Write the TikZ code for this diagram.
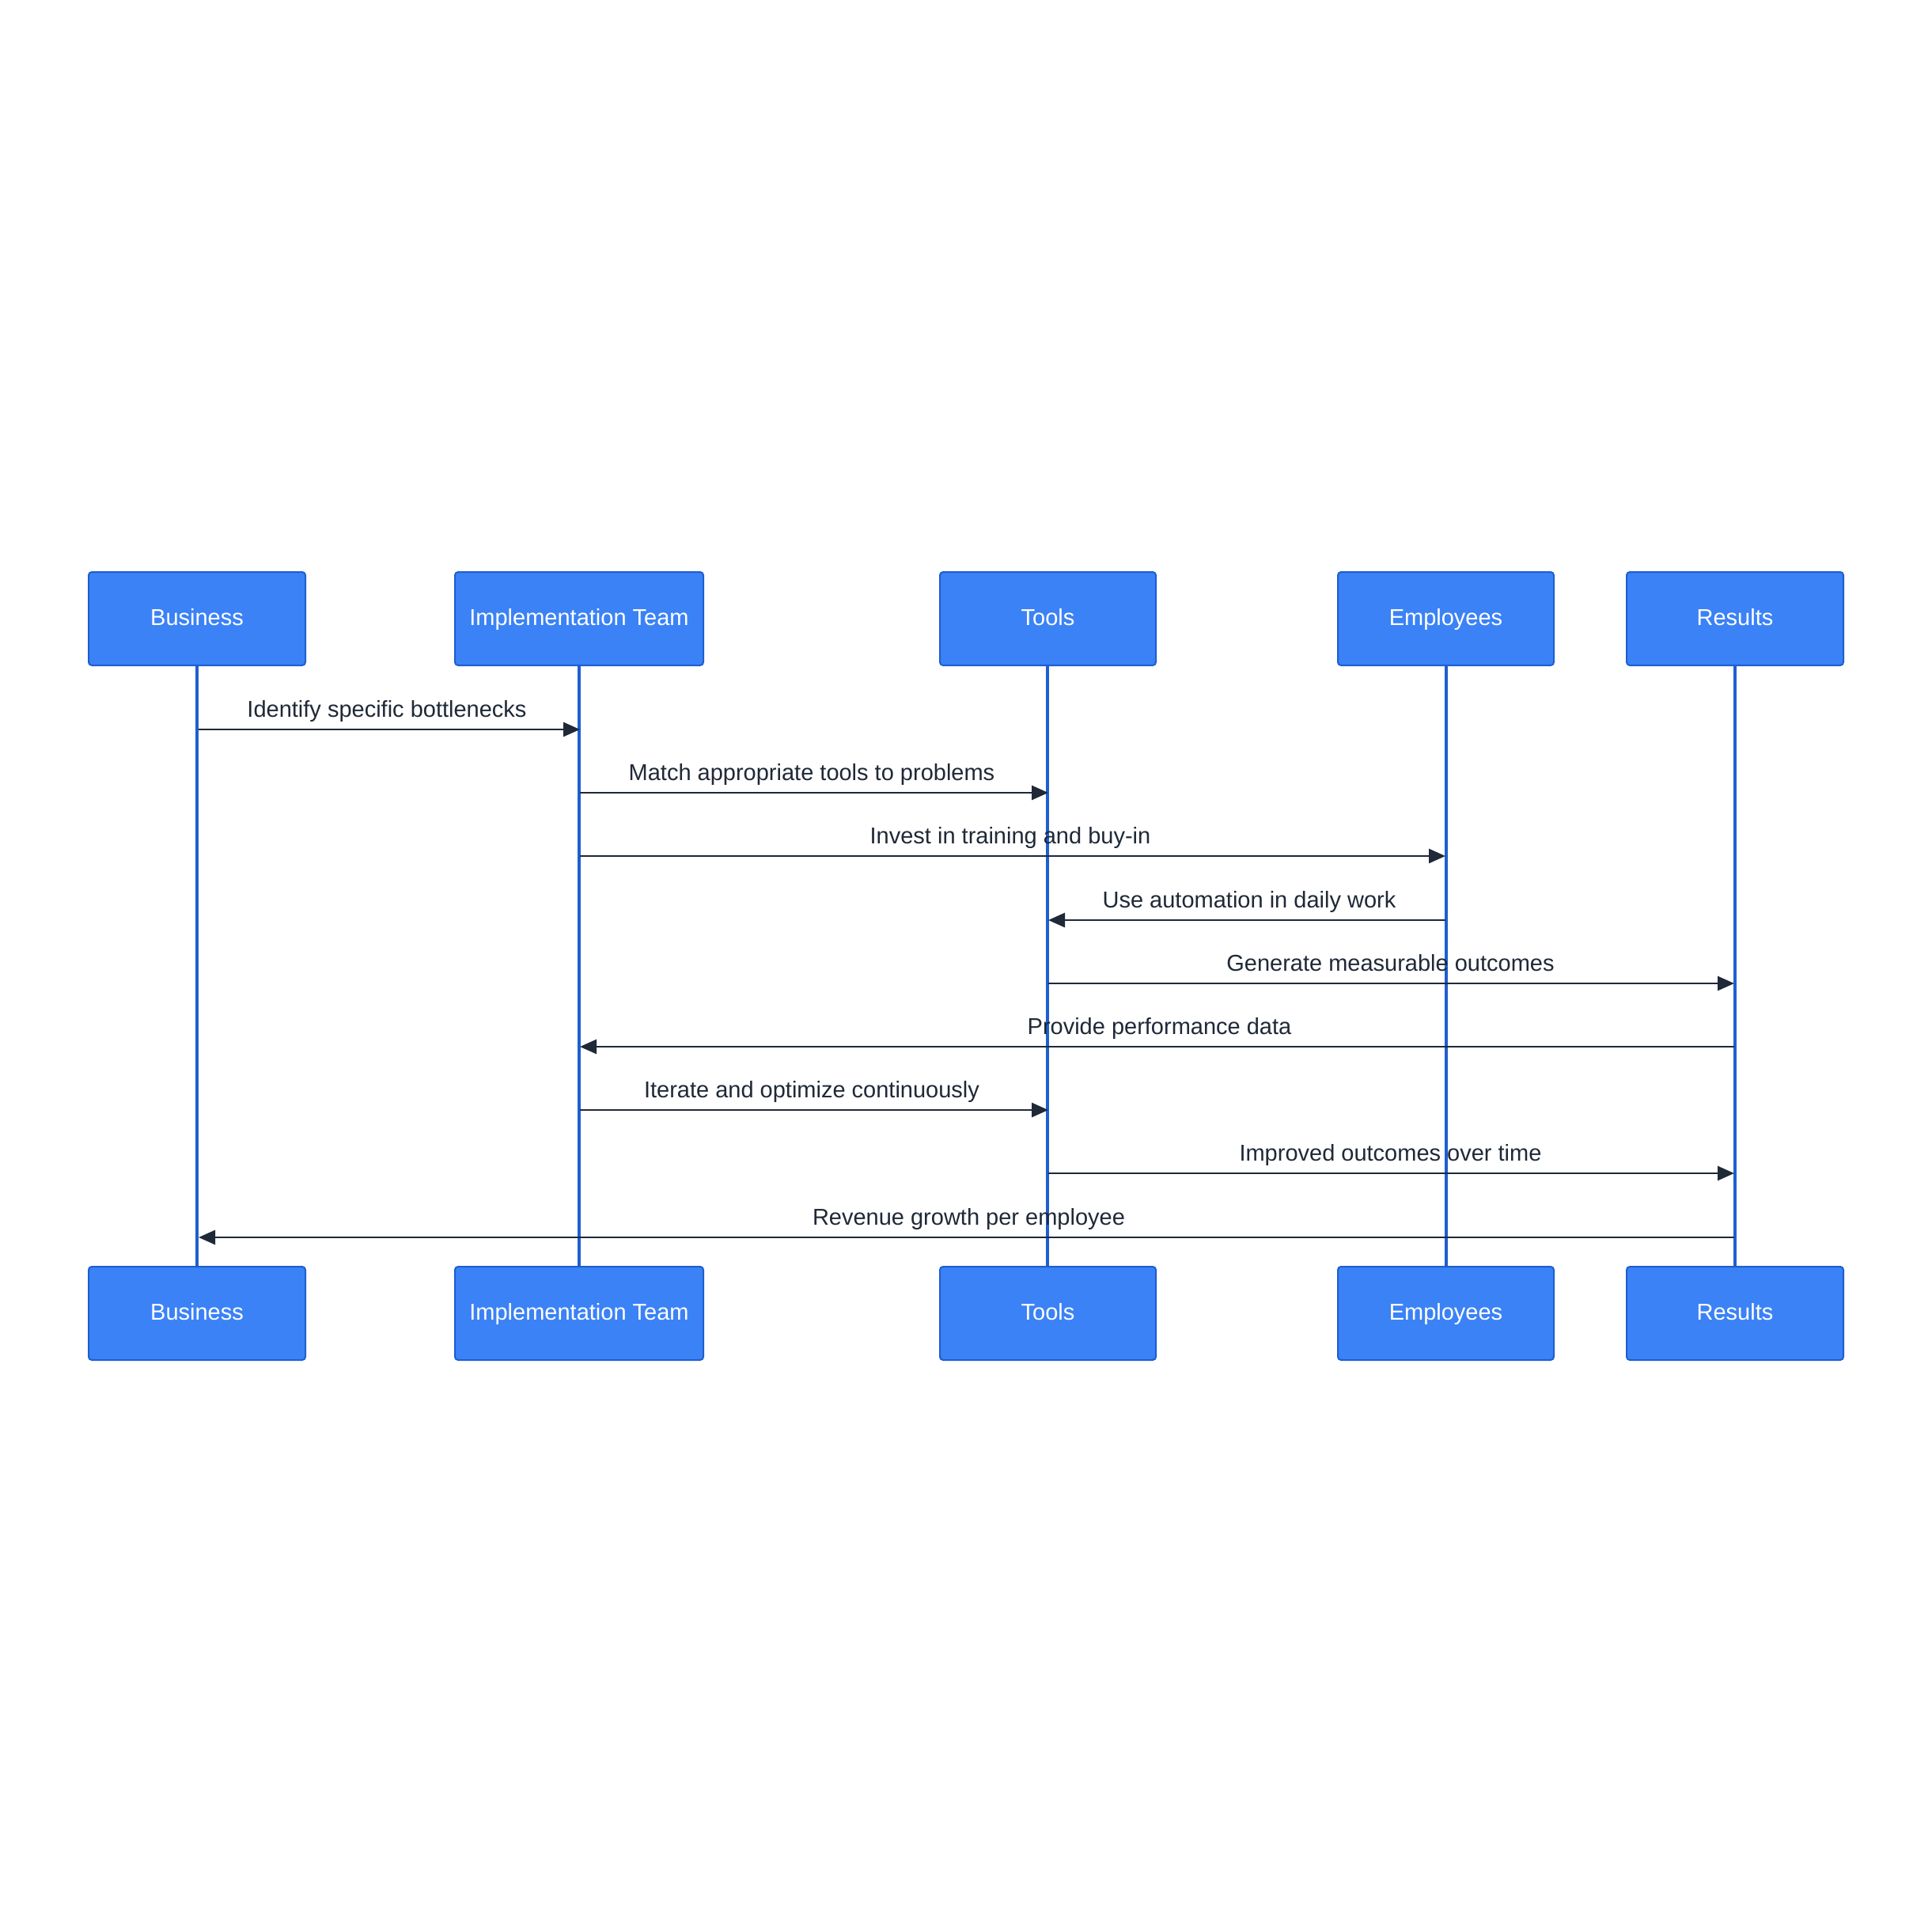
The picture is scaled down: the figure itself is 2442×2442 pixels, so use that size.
\documentclass[tikz,border=0pt]{standalone}
\usepackage{fontspec}
\setmainfont{Liberation Sans}
\usetikzlibrary{arrows.meta}
\definecolor{boxfill}{HTML}{3B82F6}
\definecolor{boxline}{HTML}{1D5FD0}
\definecolor{lifeline}{HTML}{1D5FD0}
\definecolor{msgcol}{HTML}{1F2937}
\begin{document}
\begin{tikzpicture}[x=1pt,y=-1pt,
  actor/.style={draw=boxline,line width=2pt,fill=boxfill,rounded corners=4pt,
    minimum height=118pt,text=white,font=\fontsize{29}{34}\selectfont,inner sep=0pt,
    text height=17pt,text depth=0pt},
  life/.style={draw=lifeline,line width=3.2pt},
  msg/.style={draw=msgcol,line width=2.8pt,-{Triangle[length=21pt,width=18pt]}},
  lbl/.style={text=msgcol,font=\fontsize{29}{34}\selectfont,inner sep=0pt,anchor=base}]
\useasboundingbox (0,0) rectangle (2442,2442);
\fill[white] (0,0) rectangle (2442,2442);
% lifelines first (drawn beneath boxes)
\foreach \x/\n in {249/a,732/b,1324/c,1828/d,2193/e}{
  \coordinate (\n t) at (\x,841);
  \coordinate (\n b) at (\x,1601);
}
\draw[life] (at) -- (ab);
\draw[life] (bt) -- (bb);
\draw[life] (ct) -- (cb);
\draw[life] (dt) -- (db);
\draw[life] (et) -- (eb);
% top actors
\node[actor,minimum width=274pt] (A1) at (249,782) {Business};
\node[actor,minimum width=314pt] (B1) at (732,782) {Implementation Team};
\node[actor,minimum width=273pt] (C1) at (1324.5,782) {Tools};
\node[actor,minimum width=273pt] (D1) at (1827.5,782) {Employees};
\node[actor,minimum width=274pt] (E1) at (2193,782) {Results};
% bottom actors
\node[actor,minimum width=274pt] (A2) at (249,1660) {Business};
\node[actor,minimum width=314pt] (B2) at (732,1660) {Implementation Team};
\node[actor,minimum width=273pt] (C2) at (1324.5,1660) {Tools};
\node[actor,minimum width=273pt] (D2) at (1827.5,1660) {Employees};
\node[actor,minimum width=274pt] (E2) at (2193,1660) {Results};
% message coordinates
\foreach \y [count=\i] in {922,1002,1082,1163,1243,1323,1403,1483,1564}{
  \coordinate (a\i) at (251,\y);
  \coordinate (b\i) at (733,\y);
  \coordinate (c\i) at (1325,\y);
  \coordinate (d\i) at (1827,\y);
  \coordinate (e\i) at (2192,\y);
}
\draw[msg] (a1) -- (b1) node[lbl,midway,yshift=16pt,xshift=-3pt] (m1) {Identify specific bottlenecks};
\draw[msg] (b2) -- (c2) node[lbl,midway,yshift=16pt,xshift=-3pt] (m2) {Match appropriate tools to problems};
\draw[msg] (b3) -- (d3) node[lbl,midway,yshift=16pt,xshift=-3pt] (m3) {Invest in training and buy-in};
\draw[msg] (d4) -- (c4) node[lbl,midway,yshift=16pt,xshift=3pt] (m4) {Use automation in daily work};
\draw[msg] (c5) -- (e5) node[lbl,midway,yshift=16pt,xshift=-1pt] (m5) {Generate measurable outcomes};
\draw[msg] (e6) -- (b6) node[lbl,midway,yshift=16pt,xshift=3pt] (m6) {Provide performance data};
\draw[msg] (b7) -- (c7) node[lbl,midway,yshift=16pt,xshift=-3pt] (m7) {Iterate and optimize continuously};
\draw[msg] (c8) -- (e8) node[lbl,midway,yshift=16pt,xshift=-1pt] (m8) {Improved outcomes over time};
\draw[msg] (e9) -- (a9) node[lbl,midway,yshift=16pt,xshift=3pt] (m9) {Revenue growth per employee};
\end{tikzpicture}
\end{document}
